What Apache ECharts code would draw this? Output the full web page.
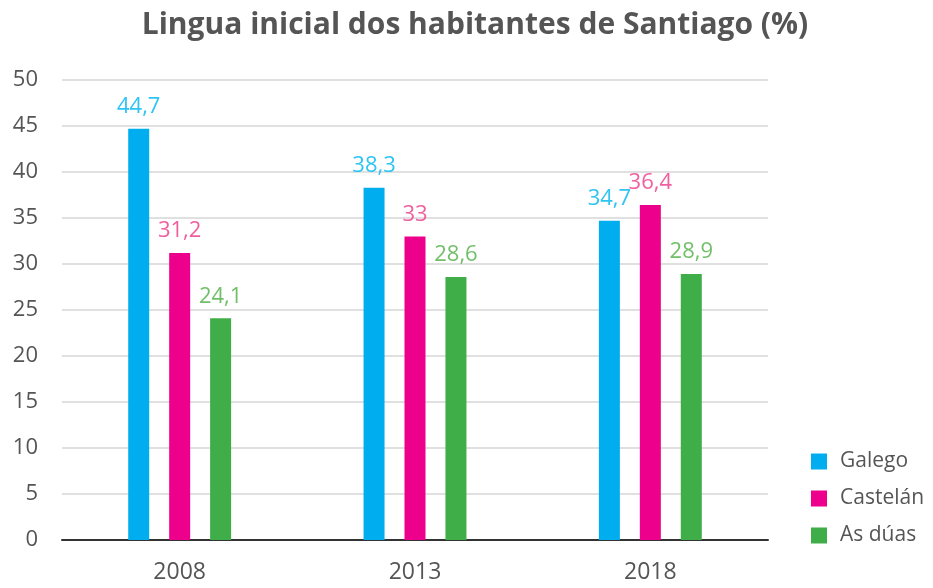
<!DOCTYPE html>
<html lang="gl">
<head>
    <meta http-equiv="Content-Type" content="text/html; charset=UTF-8">
    <title>Lingua inicial</title>
    <script type="text/javascript" src="https://cdn.jsdelivr.net/npm/echarts@6/dist/echarts.min.js"></script>
    <style>
        html, body { margin: 0; padding: 0; background: #fff; }
    </style>
</head>
<body>
    <div id="main" style="width: 933px;height:588px;"></div>

    <script type="text/javascript">
        // datos
        var years = ['2008', '2013', '2018'];
        var galego = [44.7, 38.3, 34.7];
        var castelan = [31.2, 33, 36.4];
        var asDuas = [24.1, 28.6, 28.9];
        var seriesNames = ['Galego', 'Castelán', 'As dúas'];

        var barColors = ['#00aeef', '#ec008c', '#3fae49'];
        var labelColors = ['#2ec4f3', '#f0609e', '#72bf6a'];
        var fontName = 'Open Sans';

        function makeSeries(idx, values) {
            return {
                name: seriesNames[idx],
                type: 'bar',
                barWidth: 21,
                barGap: '95%',
                itemStyle: { color: barColors[idx] },
                label: {
                    show: true,
                    position: 'top',
                    distance: 11,
                    color: labelColors[idx],
                    fontFamily: fontName,
                    fontSize: 22,
                    formatter: function (p) {
                        return String(p.value).replace('.', ',');   // coma decimal
                    }
                },
                data: values
            };
        }

        var myChart = echarts.init(document.getElementById('main'));

        var option = {
            animation: false,
            textStyle: { fontFamily: fontName },
            title: {
                text: 'Lingua inicial dos habitantes de Santiago (%)',
                left: 470,
                textAlign: 'center',
                top: 5,
                textStyle: {
                    color: '#555555',
                    fontFamily: fontName,
                    fontWeight: 'bold',
                    fontSize: 30
                }
            },
            legend: {
                orient: 'vertical',
                left: 811,
                top: 451,
                padding: 0,
                itemWidth: 16,
                itemHeight: 16,
                itemGap: 16,
                icon: 'rect',
                textStyle: { color: '#555555', fontSize: 21, fontFamily: fontName, padding: [0, 0, 0, 8] },
                data: seriesNames
            },
            grid: {
                left: 62,
                right: 165,
                top: 80,
                bottom: 48
            },
            xAxis: {
                type: 'category',
                data: years,
                axisLine: { lineStyle: { color: '#333333', width: 2 } },
                axisTick: { show: false },
                axisLabel: { color: '#555555', fontSize: 23, margin: 21, fontFamily: fontName }
            },
            yAxis: {
                type: 'value',
                min: 0,
                max: 50,
                interval: 5,
                axisLine: { show: false },
                axisTick: { show: false },
                axisLabel: { color: '#555555', fontSize: 22, margin: 24, fontFamily: fontName },
                splitLine: { lineStyle: { color: '#d6d6d6', width: 1.5 } }
            },
            series: [
                makeSeries(0, galego),
                makeSeries(1, castelan),
                makeSeries(2, asDuas)
            ]
        };

        myChart.setOption(option);
    </script>
</body>
</html>
